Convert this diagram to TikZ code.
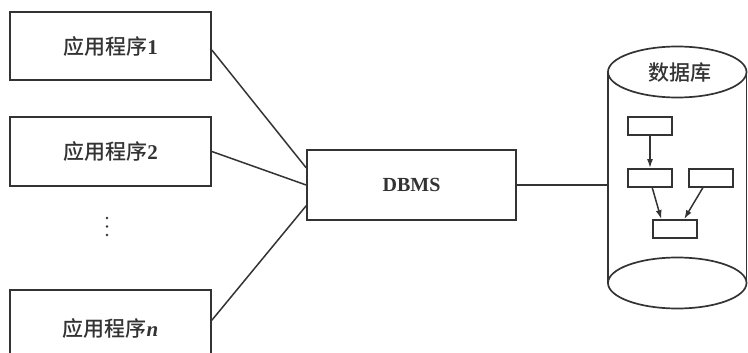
\documentclass[tikz,border=0pt]{standalone}
\usepackage{fontspec}
\setmainfont{Liberation Serif}
\newfontfamily\cjk{Noto Sans CJK SC}[UprightFont=* Medium]
\usetikzlibrary{arrows.meta,calc}
\definecolor{ink}{HTML}{333333}
\begin{document}
\begin{tikzpicture}[x=1pt,y=-1pt,line width=1.7pt,draw=ink,text=ink,
  appbox/.style={draw,minimum width=201pt,inner sep=0pt,font=\fontsize{21}{25}\selectfont},
  dbbox/.style={draw,minimum width=44pt,minimum height=18pt,inner sep=0pt,line width=1.8pt},
  link/.style={line width=1.5pt},
  arr/.style={-{Latex[length=9pt,width=6pt]},line width=1.5pt}]
\useasboundingbox (0,0) rectangle (748,353);
\clip (0,0) rectangle (748,353);
\node[appbox,minimum height=68pt] (a1) at (110.5,46) {{\cjk 应用程序}\textbf{1}};
\node[appbox,minimum height=69pt] (a2) at (110.5,151.5) {{\cjk 应用程序}\textbf{2}};
\node[appbox,minimum height=76pt] (an) at (110.5,328) {{\cjk 应用程序}\textbf{\textit{n}}};
\fill[ink] (107,218) circle (1.4) (107,226.5) circle (1.4) (107,235) circle (1.4);
\node[draw,minimum width=209pt,minimum height=70pt,inner sep=0pt,font=\fontsize{20}{24}\selectfont\bfseries] (dbms) at (411.5,185) {DBMS};
\draw[link] (a1.east) ++(0,4) -- ($(dbms.north west)!0.26!(dbms.south west)$);
\draw[link] (a2.east) -- (dbms.west);
\draw[link] ($(an.north east)!0.4!(an.south east)$) -- ($(dbms.north west)!0.79!(dbms.south west)$);
% cylinder
\draw (608,72) -- (608,283);
\draw (746.5,72) -- (746.5,283);
\draw (677.25,72) ellipse (69.25 and 25.5);
\draw (677.25,283) ellipse (69.25 and 25.5);
\coordinate (dbl) at (608,185);
\node[font=\fontsize{21}{25}\selectfont\cjk] (dbt) at (680,73) {数据库};
\draw[link] (dbms.east) -- (dbl);
\node[dbbox] (A) at (650,126) {};
\node[dbbox] (B) at (650,178) {};
\node[dbbox] (C) at (711,178) {};
\node[dbbox] (D) at (675,229) {};
\draw[arr] (A.south) -- (B.north);
\draw[arr] ($(B.south west)!0.55!(B.south east)$) -- ($(D.north west)!0.2!(D.north east)$);
\draw[arr] ($(C.south west)!0.32!(C.south east)$) -- ($(D.north west)!0.7!(D.north east)$);
\end{tikzpicture}
\end{document}
